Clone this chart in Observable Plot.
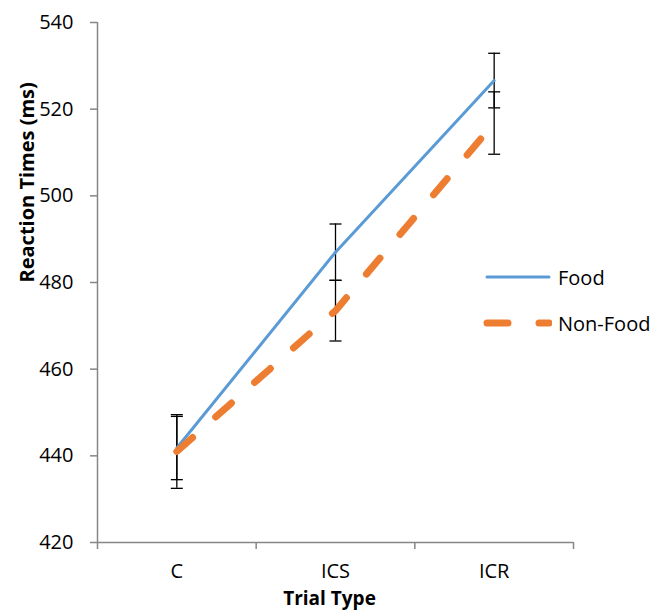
<!DOCTYPE html>
<html>
<head>
<meta charset="utf-8">
<script src="https://cdn.jsdelivr.net/npm/d3@7"></script>
<script src="https://cdn.jsdelivr.net/npm/@observablehq/plot@0.6"></script>
<style>
  html, body { margin: 0; padding: 0; background: #fff; }
  #wrap { position: relative; width: 662px; height: 610px; font-family: "Open Sans", sans-serif; }
  #legend { position: absolute; left: 483px; top: 262px; font-size: 20px; color: #000; }
  .row { display: flex; align-items: center; height: 30px; }
  .row svg { display: block; margin-right: 6px; }
  .row + .row { margin-top: 16px; }
</style>
</head>
<body>
<div id="wrap"></div>
<script>
const categories = ["C", "ICS", "ICR"];
const seriesNames = ["Food", "Non-Food"];
const foodMeans = [441.8, 487.0, 526.6];
const foodErr = [7.3, 6.5, 6.3];
const nonFoodMeans = [441.0, 473.5, 516.8];
const nonFoodErr = [8.5, 7.0, 7.2];
const yTicks = [420, 440, 460, 480, 500, 520, 540];

const colors = {"Food": "#5B9BD5", "Non-Food": "#ED7D31"};
const axisGray = "#868686";

const food = categories.map((c, i) => ({cat: c, x: i + 0.5, mean: foodMeans[i], err: foodErr[i]}));
const nonFood = categories.map((c, i) => ({cat: c, x: i + 0.5, mean: nonFoodMeans[i], err: nonFoodErr[i]}));
const all = food.concat(nonFood);

const capSymbol = {
  draw(context) { context.moveTo(-6, 0); context.lineTo(6, 0); }
};

const chart = Plot.plot({
  width: 662,
  height: 610,
  marginLeft: 97,
  marginRight: 89,
  marginTop: 22,
  marginBottom: 68,
  style: {fontFamily: "'Open Sans', sans-serif", background: "#fff", color: "#000"},
  x: {type: "linear", domain: [0, categories.length]},
  y: {domain: [420, 540]},
  marks: [
    Plot.axisY({ticks: yTicks, tickSize: 7, tickPadding: 17, fontSize: 20, stroke: axisGray, fill: "#000", strokeWidth: 1.5, label: null}),
    Plot.axisX({ticks: d3.range(categories.length + 1), tickSize: 7, tickFormat: () => "", stroke: axisGray, strokeWidth: 1.5, label: null}),
    Plot.axisX({ticks: categories.map((c, i) => i + 0.5), tickSize: 0, tickPadding: 21, fontSize: 20, fill: "#000", tickFormat: d => categories[Math.floor(d)], label: null}),
    Plot.ruleX([0], {stroke: axisGray, strokeWidth: 1.5}),
    Plot.ruleY([420], {stroke: axisGray, strokeWidth: 1.5}),
    Plot.text(["Reaction Times (ms)"], {frameAnchor: "left", rotate: -90, dx: -70, fontSize: 20, fontWeight: "bold", fill: "#000"}),
    Plot.text(["Trial Type"], {frameAnchor: "bottom", lineAnchor: "top", dy: 49, dx: -6, fontSize: 19, fontWeight: "bold", fill: "#000"}),
    // error bars
    Plot.ruleX(all, {x: "x", y1: d => d.mean - d.err, y2: d => d.mean + d.err, stroke: "#000", strokeWidth: 1.3}),
    Plot.dot(all, {x: "x", y: d => d.mean + d.err, symbol: capSymbol, fill: "none", stroke: "#000", strokeWidth: 1.3}),
    Plot.dot(all, {x: "x", y: d => d.mean - d.err, symbol: capSymbol, fill: "none", stroke: "#000", strokeWidth: 1.3}),
    // lines
    Plot.line(food, {x: "x", y: "mean", stroke: colors["Food"], strokeWidth: 3, strokeLinecap: "round"}),
    Plot.line(nonFood, {x: "x", y: "mean", stroke: colors["Non-Food"], strokeWidth: 7, strokeDasharray: "21,31", strokeLinecap: "round"})
  ]
});

const wrap = document.getElementById("wrap");
wrap.appendChild(chart);

const legend = document.createElement("div");
legend.id = "legend";
seriesNames.forEach(name => {
  const row = document.createElement("div");
  row.className = "row";
  const dashed = name === "Non-Food";
  row.innerHTML = `<svg width="69" height="14"><line x1="4" y1="7" x2="66" y2="7" stroke="${colors[name]}" stroke-width="${dashed ? 7 : 3}" stroke-linecap="round" ${dashed ? 'stroke-dasharray="21,31"' : ''}/></svg><span>${name}</span>`;
  legend.appendChild(row);
});
wrap.appendChild(legend);
</script>
</body>
</html>
